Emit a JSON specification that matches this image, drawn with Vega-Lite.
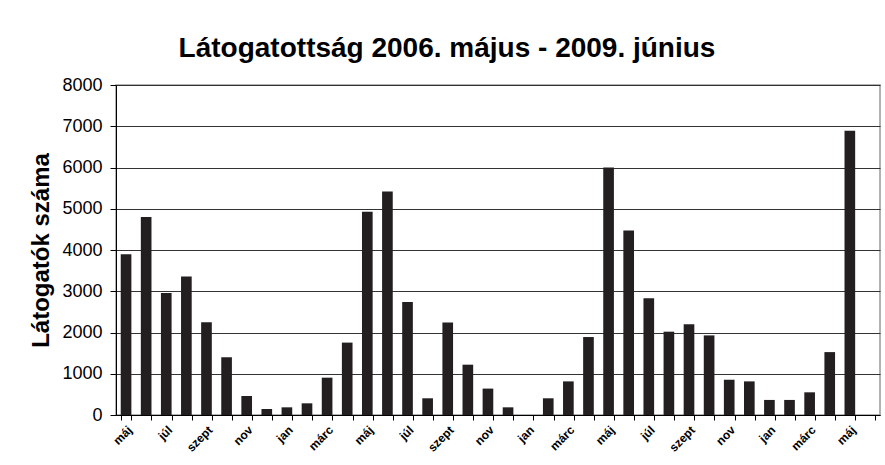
{
  "$schema": "https://vega.github.io/schema/vega-lite/v6.json",
  "width": 764,
  "height": 330,
  "autosize": {"type": "none"},
  "padding": {"left": 116, "top": 85, "right": 5, "bottom": 50},
  "background": "white",
  "title": {
    "text": "Látogatottság 2006. május - 2009. június",
    "fontSize": 28,
    "fontWeight": "bold",
    "font": "Liberation Sans",
    "color": "#000000",
    "anchor": "middle",
    "baseline": "alphabetic",
    "offset": 20,
    "dx": -51,
    "dy": 29
  },
  "data": {
    "values": [
      {"honap": "máj 2006", "latogatok": 3900},
      {"honap": "jún 2006", "latogatok": 4800},
      {"honap": "júl 2006", "latogatok": 2960},
      {"honap": "aug 2006", "latogatok": 3360},
      {"honap": "szept 2006", "latogatok": 2250},
      {"honap": "okt 2006", "latogatok": 1400},
      {"honap": "nov 2006", "latogatok": 460},
      {"honap": "dec 2006", "latogatok": 145},
      {"honap": "jan 2007", "latogatok": 186},
      {"honap": "febr 2007", "latogatok": 283},
      {"honap": "márc 2007", "latogatok": 905},
      {"honap": "ápr 2007", "latogatok": 1755},
      {"honap": "máj 2007", "latogatok": 4930},
      {"honap": "jún 2007", "latogatok": 5420},
      {"honap": "júl 2007", "latogatok": 2740},
      {"honap": "aug 2007", "latogatok": 405},
      {"honap": "szept 2007", "latogatok": 2245},
      {"honap": "okt 2007", "latogatok": 1220},
      {"honap": "nov 2007", "latogatok": 640},
      {"honap": "dec 2007", "latogatok": 186},
      {"honap": "jan 2008", "latogatok": 0},
      {"honap": "febr 2008", "latogatok": 405},
      {"honap": "márc 2008", "latogatok": 815},
      {"honap": "ápr 2008", "latogatok": 1890},
      {"honap": "máj 2008", "latogatok": 6000},
      {"honap": "jún 2008", "latogatok": 4475},
      {"honap": "júl 2008", "latogatok": 2830},
      {"honap": "aug 2008", "latogatok": 2020},
      {"honap": "szept 2008", "latogatok": 2200},
      {"honap": "okt 2008", "latogatok": 1930},
      {"honap": "nov 2008", "latogatok": 855},
      {"honap": "dec 2008", "latogatok": 815},
      {"honap": "jan 2009", "latogatok": 365},
      {"honap": "febr 2009", "latogatok": 365},
      {"honap": "márc 2009", "latogatok": 550},
      {"honap": "ápr 2009", "latogatok": 1525},
      {"honap": "máj 2009", "latogatok": 6890},
      {"honap": "jún 2009", "latogatok": 0}
    ]
  },
  "mark": {"type": "bar", "color": "#231f20"},
  "encoding": {
    "x": {
      "field": "honap",
      "type": "nominal",
      "sort": null,
      "scale": {"paddingInner": 0.47, "paddingOuter": 0.235},
      "axis": {
        "title": null,
        "labelAngle": -45,
        "labelAlign": "right",
        "labelBaseline": "top",
        "labelFontSize": 12,
        "labelFontWeight": "bold",
        "labelColor": "#000000",
        "labelOverlap": false,
        "labelPadding": 4,
        "labelExpr": "indexof(['máj','júl','szept','nov','jan','márc'], split(datum.label,' ')[0]) >= 0 ? split(datum.label,' ')[0] : ''",
        "tickBand": "extent",
        "tickSize": 5,
        "tickColor": "#000000",
        "domainColor": "#000000"
      }
    },
    "y": {
      "field": "latogatok",
      "type": "quantitative",
      "scale": {"domain": [0, 8000]},
      "axis": {
        "title": "Látogatók száma",
        "titleFontSize": 24,
        "titleFontWeight": "bold",
        "titleColor": "#000000",
        "titlePadding": 8,
        "values": [0, 1000, 2000, 3000, 4000, 5000, 6000, 7000, 8000],
        "format": "d",
        "labelFontSize": 18,
        "labelColor": "#000000",
        "labelPadding": 8,
        "tickSize": 6,
        "tickColor": "#000000",
        "domainColor": "#000000",
        "grid": true,
        "gridColor": "#333333"
      }
    }
  },
  "config": {
    "view": {"stroke": "#999999", "strokeWidth": 1.5},
    "font": "Liberation Sans"
  }
}
